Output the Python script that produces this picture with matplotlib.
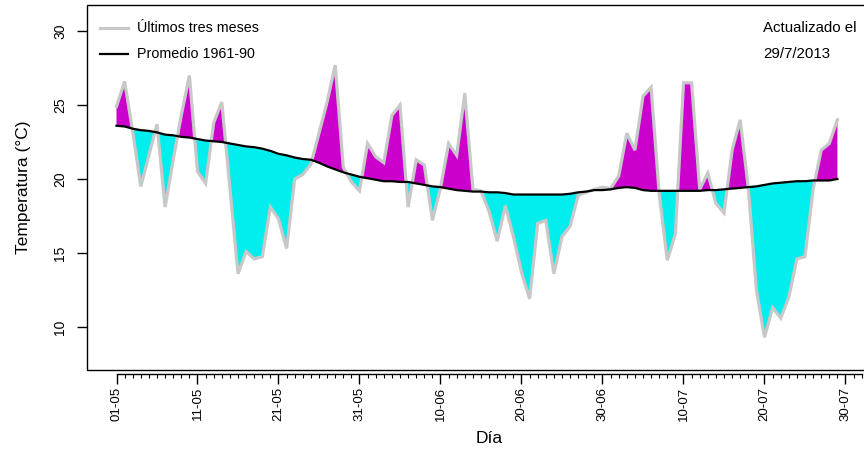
import matplotlib
matplotlib.use("Agg")
import matplotlib.pyplot as plt
import numpy as np
from matplotlib.patches import Rectangle
from matplotlib.lines import Line2D

plt.rcParams['font.family'] = ['Liberation Sans', 'DejaVu Sans']

# Daily observed temperature (01-05 .. 29-07)
obs = [24.9, 26.6, 23.2, 19.5, 21.6, 23.7, 18.1, 21.3, 24.3, 27.0,
       20.5, 19.7, 23.8, 25.2, 19.4, 13.6, 15.1, 14.6, 14.75, 18.1,
       17.3, 15.3, 20.0, 20.3, 21.0, 23.1, 25.2, 27.7, 20.8, 19.8,
       19.2, 22.4, 21.5, 21.1, 24.3, 25.0, 18.1, 21.3, 20.95, 17.2,
       19.4, 22.4, 21.6, 25.8, 19.3, 19.2, 17.8, 15.8, 18.2, 16.1,
       13.7, 11.9, 17.0, 17.2, 13.6, 16.1, 16.8, 18.9, 19.1, 19.3,
       19.45, 19.35, 20.2, 23.1, 21.95, 25.6, 26.2, 19.0, 14.5, 16.3,
       26.5, 26.5, 19.3, 20.4, 18.35, 17.7, 21.95, 24.0, 19.4, 12.5,
       9.3, 11.3, 10.6, 12.0, 14.6, 14.75, 19.3, 21.95, 22.4, 24.0]

# Climatological mean 1961-90
mean = [23.6, 23.55, 23.4, 23.3, 23.25, 23.15, 23.0, 22.95, 22.85, 22.8,
        22.7, 22.6, 22.55, 22.5, 22.4, 22.3, 22.2, 22.15, 22.05, 21.9,
        21.7, 21.6, 21.45, 21.35, 21.3, 21.1, 20.85, 20.65, 20.45, 20.3,
        20.15, 20.05, 19.95, 19.85, 19.85, 19.8, 19.8, 19.7, 19.6, 19.5,
        19.45, 19.35, 19.25, 19.2, 19.15, 19.15, 19.1, 19.1, 19.05, 18.95,
        18.95, 18.95, 18.95, 18.95, 18.95, 18.95, 19.0, 19.1, 19.15, 19.25,
        19.25, 19.3, 19.4, 19.45, 19.4, 19.25, 19.2, 19.2, 19.2, 19.2,
        19.2, 19.2, 19.2, 19.25, 19.25, 19.3, 19.35, 19.4, 19.45, 19.5,
        19.6, 19.7, 19.75, 19.8, 19.85, 19.85, 19.9, 19.9, 19.9, 20.0]

tick_labels = ["01-05", "11-05", "21-05", "31-05", "10-06",
               "20-06", "30-06", "10-07", "20-07", "30-07"]
yticks = [10, 15, 20, 25, 30]

legend_labels = ["Últimos tres meses", "Promedio 1961-90"]
update_text = ["Actualizado el", "29/7/2013"]

W, H = 864, 449
fig = plt.figure(figsize=(W / 100, H / 100), dpi=100)

# axes geometry in pixels
left_px, top_px, bottom_px = 86.7, 5.0, 370.0
x0_px, px_per_day = 116.5, 8.1
xmin = -(x0_px - left_px) / px_per_day
xmax = 95.68
right_px = x0_px + xmax * px_per_day
ax = fig.add_axes([left_px / W, (H - bottom_px) / H,
                   (right_px - left_px) / W, (bottom_px - top_px) / H])

days = np.arange(len(obs))
o = np.array(obs)
m = np.array(mean)

ax.fill_between(days, o, m, where=o >= m, interpolate=True,
                color='#cc00cc', linewidth=0)
ax.fill_between(days, o, m, where=o <= m, interpolate=True,
                color='#00eeee', linewidth=0)
ax.plot(days, o, color='#c8c8c8', linewidth=2.3, solid_joinstyle='miter')
ax.plot(days, m, color='black', linewidth=1.6)

ax.set_xlim(xmin, xmax)
ax.set_ylim(7.09, 31.76)

# box frame
ax.add_patch(Rectangle((0, 0), 1, 1, transform=ax.transAxes, fill=False,
                       edgecolor='black', linewidth=1.0, clip_on=False))
for s in ['top', 'right']:
    ax.spines[s].set_visible(False)
ax.spines['left'].set_visible(False)
ax.spines['bottom'].set_position(('outward', 3))
ax.spines['bottom'].set_bounds(0, 92)
ax.spines['bottom'].set_linewidth(1.0)

major = np.arange(0, 91, 10)
ax.set_xticks(major)
ax.set_xticklabels(tick_labels, rotation=90, fontsize=9.5)
ax.set_xticks(np.arange(0, 93, 1), minor=True)
ax.tick_params(axis='x', which='major', length=7, width=1.0, pad=2)
ax.tick_params(axis='x', which='minor', length=3, width=0.8)

ax.set_yticks(yticks)
ax.set_yticklabels([str(v) for v in yticks], rotation=90, va='center',
                   fontsize=10)
ax.tick_params(axis='y', length=7, width=1.0, pad=7)

ax.set_ylabel("Temperatura (°C)", fontsize=12.5, labelpad=16)
ax.set_xlabel("Día", fontsize=12.5, labelpad=7)

# legend drawn manually
fig.add_artist(Line2D([100 / W, 128 / W], [1 - 27.5 / H] * 2,
                      color='#c8c8c8', linewidth=2.3))
fig.add_artist(Line2D([100 / W, 128 / W], [1 - 53.5 / H] * 2,
                      color='black', linewidth=1.6))
fig.text(137 / W, 1 - 27.5 / H, legend_labels[0], fontsize=10.3, va='center')
fig.text(137 / W, 1 - 53.5 / H, legend_labels[1], fontsize=10.3, va='center')
fig.text(763 / W, 1 - 27.5 / H, update_text[0], fontsize=10.8, va='center')
fig.text(763 / W, 1 - 53.5 / H, update_text[1], fontsize=10.8, va='center')

fig.savefig("out.png", dpi=100)
